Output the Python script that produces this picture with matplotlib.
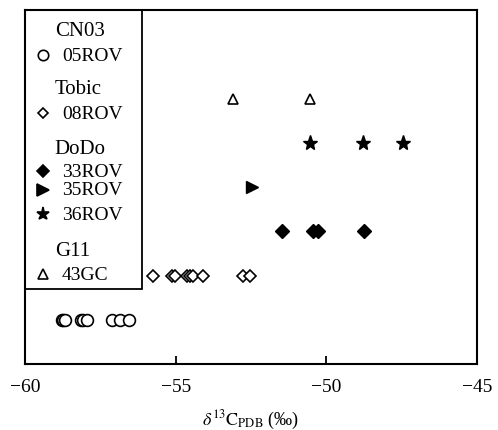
import matplotlib
matplotlib.use("Agg")
import matplotlib.pyplot as plt
from matplotlib.patches import Rectangle

plt.rcParams['font.family'] = ['Liberation Serif', 'DejaVu Serif']
plt.rcParams['mathtext.fontset'] = 'stix'

# data: delta13C values per sample group (y is just a row index)
x_05rov = [-58.77, -58.72, -58.67, -58.15, -58.07, -57.95, -57.11, -56.85, -56.55]
x_08rov = [-55.74, -55.13, -55.02, -54.63, -54.52, -54.43, -54.08, -52.75, -52.53]
x_33rov = [-51.48, -50.43, -50.27, -48.74]
x_35rov = [-52.47]
x_36rov = [-50.54, -48.8, -47.45]
x_43gc = [-53.1, -50.54]

row_05rov = 1
row_08rov = 2
row_33rov = 3
row_35rov = 4
row_36rov = 5
row_43gc = 6

fig = plt.figure(figsize=(4.98, 4.31), dpi=100)
ax = fig.add_axes([0.050, 0.153, 0.908, 0.821])

ax.plot(x_05rov, [row_05rov] * len(x_05rov), 'o', mfc='white', mec='black', mew=1.2, ms=8.5, ls='none')
ax.plot(x_08rov, [row_08rov] * len(x_08rov), 'D', mfc='white', mec='black', mew=1.2, ms=6.5, ls='none')
ax.plot(x_33rov, [row_33rov] * len(x_33rov), 'D', color='black', ms=7, ls='none')
ax.plot(x_35rov, [row_35rov] * len(x_35rov), '>', color='black', ms=9, ls='none')
ax.plot(x_36rov, [row_36rov] * len(x_36rov), '*', color='black', ms=11, ls='none')
ax.plot(x_43gc, [row_43gc] * len(x_43gc), '^', mfc='white', mec='black', mew=1.2, ms=7.5, ls='none')

ax.set_xlim(-60, -45)
ax.set_ylim(0, 8)
ax.set_xticks([-60, -55, -50, -45])
ax.set_xticklabels(['\u221260', '\u221255', '\u221250', '\u221245'])
ax.set_yticks([])
ax.tick_params(axis='x', direction='in', length=6, width=1.3, labelsize=14, pad=10)
for s in ax.spines.values():
    s.set_linewidth(1.5)
ax.set_xlabel(r'$\delta^{13}\mathrm{C}_{\mathrm{PDB}}$ (‰)', fontsize=13, labelpad=9)

# custom grouped legend box
ax.add_patch(Rectangle((0, 0.212), 0.259, 0.788, transform=ax.transAxes,
                       fill=False, edgecolor='black', lw=1.3, zorder=5))
heads = [('CN03', 0.943), ('Tobic', 0.780), ('DoDo', 0.610), ('G11', 0.322)]
for txt, yy in heads:
    ax.text(0.066, yy, txt, transform=ax.transAxes, fontsize=15, va='center', ha='left')
items = [('05ROV', 0.873, 'o', 'white', 7.5), ('08ROV', 0.709, 'D', 'white', 5.5),
         ('33ROV', 0.545, 'D', 'black', 6.5), ('35ROV', 0.492, '>', 'black', 8),
         ('36ROV', 0.424, '*', 'black', 9.5), ('43GC', 0.254, '^', 'white', 7)]
for txt, yy, mk, fc, size in items:
    ax.plot([0.040], [yy], mk, transform=ax.transAxes, mfc=fc, mec='black', mew=1.2, ms=size)
    ax.text(0.082, yy, txt, transform=ax.transAxes, fontsize=14, va='center', ha='left')

fig.savefig('out.png', dpi=100)
